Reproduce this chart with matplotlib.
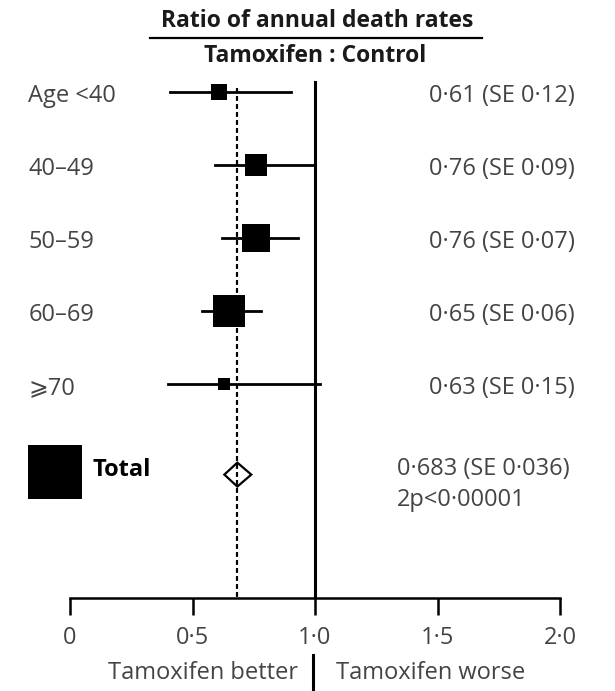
import numpy as np
import matplotlib
matplotlib.use("Agg")
import matplotlib.pyplot as plt

# 読み取り値 (Ratio of annual death rates, Tamoxifen : Control)
groups = ["Age <40", "40–49", "50–59", "60–69", "⩾70"]
ratio = [0.61, 0.76, 0.76, 0.65, 0.63]
se = [0.12, 0.09, 0.07, 0.06, 0.15]
ci_lo = [0.41, 0.59, 0.62, 0.54, 0.40]
ci_hi = [0.90, 0.99, 0.93, 0.78, 1.02]
row_text = ["0·61 (SE 0·12)", "0·76 (SE 0·09)", "0·76 (SE 0·07)",
            "0·65 (SE 0·06)", "0·63 (SE 0·15)"]

total_ratio = 0.683
total_se = 0.036
total_lo = 0.63
total_hi = 0.74
total_text = ["0·683 (SE 0·036)", "2p<0·00001"]

xticks = [0, 0.5, 1.0, 1.5, 2.0]
xtick_labels = ["0", "0·5", "1·0", "1·5", "2·0"]

FONT = ["Open Sans", "DejaVu Sans"]
GREY = "#444444"
FS = 17

W, H = 615, 691
fig = plt.figure(figsize=(W / 100, H / 100), dpi=100)
plt.rcParams["font.family"] = FONT

# 軸は図全体の幅: x=0 -> 70px, 1 unit = 245px
ax_bottom = (H - 598) / H
ax = fig.add_axes([0, ax_bottom, 1, 1 - ax_bottom])
ax.set_xlim(-70 / 245, (W - 70) / 245)
y_total = 5.2
ax.set_ylim(6.93, -1.26)
ax.patch.set_alpha(0)

for s in ["top", "left", "right"]:
    ax.spines[s].set_visible(False)
ax.spines["bottom"].set_bounds(0, 2)
ax.spines["bottom"].set_linewidth(1.8)
ax.set_yticks([])
ax.set_xticks(xticks)
ax.set_xticklabels(xtick_labels, fontsize=FS, color=GREY)
ax.tick_params(axis="x", direction="out", length=12, width=1.8, pad=8)

y = np.arange(len(groups))

# reference lines
ax.plot([1, 1], [-0.14, 6.93], color="black", lw=2.2, zorder=2)
ax.plot([total_ratio, total_ratio], [-0.05, 6.93], color="black", lw=1.6,
        ls=(0, (2.2, 1.4)), zorder=4)

# CI + boxes (面積 ∝ 1/SE^2)
side_k = 1.93 * 0.72  # pt per (1/SE)
for i in range(len(groups)):
    ax.plot([ci_lo[i], ci_hi[i]], [y[i], y[i]], color="black", lw=2.0, zorder=3)
    ax.plot(ratio[i], y[i], marker="s", ms=side_k / se[i], color="black",
            mew=0, zorder=5)
    ax.text(-0.17, y[i] + 0.06, groups[i], fontsize=FS, color=GREY,
            ha="left", va="center")
    ax.text(2.06, y[i] + 0.06, row_text[i], fontsize=FS, color=GREY,
            ha="right", va="center")

# total
dh = 0.164
yt = y_total + 0.04
ax.fill([total_lo, total_ratio, total_hi, total_ratio],
        [yt, yt - dh, yt, yt + dh],
        facecolor="white", edgecolor="black", lw=1.6, zorder=3)
ax.plot(-0.06, y_total, marker="s", ms=side_k / total_se, color="black",
        mew=0, zorder=5)
ax.text(0.09, y_total - 0.02, "Total", fontsize=FS, fontweight="bold",
        color="black", ha="left", va="center")
ax.text(1.335, y_total - 0.03, total_text[0], fontsize=FS, color=GREY,
        ha="left", va="center")
ax.text(1.335, y_total + 0.39, total_text[1], fontsize=FS, color=GREY,
        ha="left", va="center")

# header
fig.text(317 / W, 1 - 21 / H, "Ratio of annual death rates", fontsize=16.5,
         fontweight="bold", color="#1a1a1a", ha="center", va="center")
fig.add_artist(plt.Line2D([150 / W, 482 / W], [1 - 38 / H, 1 - 38 / H],
                          color="black", lw=1.6))
fig.text(315 / W, 1 - 56 / H, "Tamoxifen : Control", fontsize=16.5,
         fontweight="bold", color="#1a1a1a", ha="center", va="center")

# bottom labels
fig.text(298 / W, 1 - 673 / H, "Tamoxifen better", fontsize=FS, color=GREY,
         ha="right", va="center")
fig.text(336 / W, 1 - 673 / H, "Tamoxifen worse", fontsize=FS, color=GREY,
         ha="left", va="center")
fig.add_artist(plt.Line2D([313 / W, 313 / W], [1 - 655 / H, 1 - 690 / H],
                          color="black", lw=2.2))

fig.savefig("out.png", dpi=100, facecolor="white")
